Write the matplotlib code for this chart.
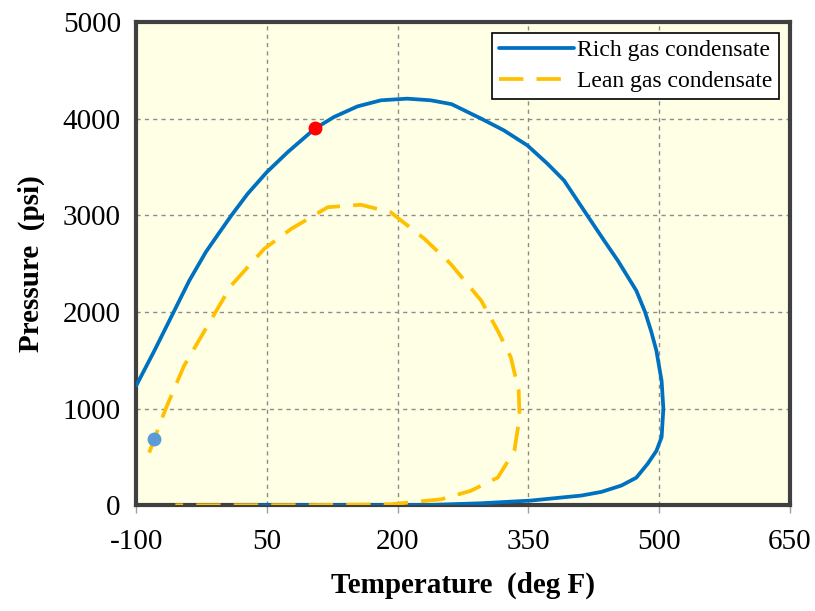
import matplotlib
matplotlib.use("Agg")
import matplotlib.pyplot as plt

# Phase envelopes: temperature (deg F) and pressure (psi)
rich_T = [-100, -79, -58, -39, -20, -5, 9, 28, 50, 74, 105, 127, 154, 181, 211,
          238, 262, 296, 322, 349, 372, 391, 418, 437, 453, 474, 484, 491, 497,
          503, 505, 503, 497, 487, 474, 457, 434, 411, 353, 296, 238, 150, 20]
rich_P = [1236, 1600, 1980, 2324, 2620, 2815, 2995, 3223, 3447, 3654, 3896, 4017,
          4127, 4190, 4207, 4190, 4150, 4000, 3879, 3723, 3534, 3361, 2995, 2739,
          2528, 2220, 2000, 1800, 1600, 1285, 1000, 706, 563, 430, 286, 205, 139,
          101, 49, 21, 4, 1, 0]

lean_T = [-85, -66, -45, -18, 9, 47, 78, 120, 158, 192, 231, 261, 296, 315, 330,
          339, 340, 334, 315, 284, 250, 192, 100, -55]
lean_P = [545, 1000, 1443, 1858, 2273, 2653, 2860, 3084, 3109, 3032, 2756, 2497,
          2117, 1806, 1530, 1185, 909, 564, 287, 150, 62, 10, 2, 0]

# Marked points
red_pt = (105, 3900)
blue_pt = (-79, 690)

x_ticks = [-100, 50, 200, 350, 500, 650]
y_ticks = [0, 1000, 2000, 3000, 4000, 5000]

plt.rcParams['font.family'] = ['Liberation Serif', 'DejaVu Serif']
plt.rcParams['axes.unicode_minus'] = False

fig = plt.figure(figsize=(8.15, 6.11), dpi=100)
ax = fig.add_axes([0.167, 0.173, 0.802, 0.791])
ax.set_facecolor('#FFFFE5')

ax.plot(rich_T, rich_P, color='#0070C0', lw=2.7, label='Rich gas condensate',
        solid_capstyle='round', solid_joinstyle='round', zorder=3)
ax.plot(lean_T, lean_P, color='#FFC000', lw=2.7, dashes=(6.5, 3.5),
        label='Lean gas condensate', zorder=4)
ax.plot(*red_pt, 'o', color='#FF0000', ms=9, zorder=5)
ax.plot(*blue_pt, 'o', color='#5B9BD5', ms=9, zorder=5)

ax.set_xlim(-100, 650)
ax.set_ylim(0, 5000)
ax.set_xticks(x_ticks)
ax.set_yticks(y_ticks)
ax.tick_params(axis='x', length=6, width=1, color='#A0A0A0', labelsize=21, pad=11)
ax.tick_params(axis='y', length=0, labelsize=21, pad=11)

ax.grid(True, color='#8C8C8C', ls=(0, (3, 3)), lw=1.0, zorder=1)
for s in ax.spines.values():
    s.set_color('#404040')
    s.set_linewidth(3)
    s.set_zorder(2)

ax.set_xlabel('Temperature  (deg F)', fontsize=21, fontweight='bold', labelpad=12)
ax.set_ylabel('Pressure  (psi)', fontsize=21, fontweight='bold', labelpad=13)

leg = ax.legend(loc='upper right', fontsize=17, frameon=True, fancybox=False,
                framealpha=1, edgecolor='black', borderpad=0.3, labelspacing=0.4,
                handlelength=3.2, handletextpad=0.1, borderaxespad=0.45)
leg.get_frame().set_linewidth(1.2)

fig.savefig('out.png', dpi=100)
